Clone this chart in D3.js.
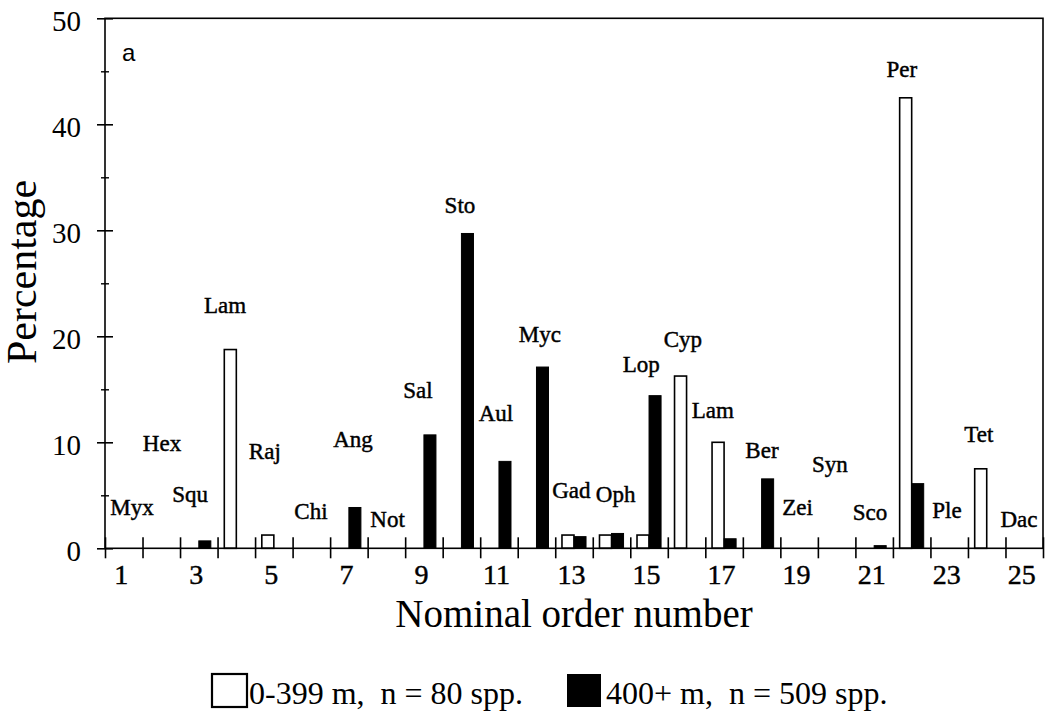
<!DOCTYPE html>
<html>
<head>
<meta charset="utf-8">
<script src="https://cdn.jsdelivr.net/npm/d3@7"></script>
<style>
  html, body { margin: 0; padding: 0; background: #fff; }
  svg { display: block; }
  text { font-family: "Liberation Serif", "Times New Roman", serif; fill: #000; }
  .ink { stroke: #000; stroke-width: 0.45px; }
</style>
</head>
<body>
<svg id="chart" width="1048" height="717"></svg>
<script>
// ---- data ----
const categories = d3.range(1, 26);
const orderLabels = ["Myx","Hex","Squ","Lam","Raj","Chi","Ang","Not","Sal","Sto","Aul","Myc","Gad",
                     "Oph","Lop","Cyp","Lam","Ber","Zei","Syn","Sco","Per","Ple","Tet","Dac"];
// percentage of species, 0-399 m (n = 80)
const shallow = [0,0,0,18.75,1.25,0,0,0,0,0,0,0,1.25,1.25,1.25,16.25,10,0,0,0,0,42.5,0,7.5,0];
// percentage of species, 400+ m (n = 509)
const deep = [0,0,0.7,0,0,0,3.85,0,10.7,29.7,8.2,17.1,1.1,1.4,14.4,0,0.9,6.55,0,0,0.25,6.1,0,0,0];
// label anchor (category units, percentage units of baseline)
const labelX = [1.22,2.02,2.77,3.70,4.76,5.99,7.11,8.03,8.84,9.96,10.92,12.09,12.93,
                14.11,14.79,15.90,16.70,18.01,18.96,19.82,20.89,21.74,22.94,23.79,24.86];
const labelY = [3.14,9.18,4.37,22.2,8.42,2.76,9.58,2.04,14.18,31.63,12.04,19.49,4.75,
                4.40,16.63,19.02,12.29,8.52,3.14,7.23,2.67,44.49,2.86,10.06,2.04];
const yMajorTicks = [0,10,20,30,40,50];
const yMinorTicks = [5,15,25,35,45];
const xTickLabels = [1,3,5,7,9,11,13,15,17,19,21,23,25];
const seriesNames = ["0-399 m,  n = 80 spp.", "400+ m,  n = 509 spp."];
const panelLabel = "a";

// ---- layout ----
const svg = d3.select("#chart");
const L = 105, R = 1043, T = 18.3, B = 548.3;

const x = d3.scaleBand().domain(categories).range([L, R]).paddingInner(0).paddingOuter(0);
const xLin = d3.scaleLinear().domain([0.5, 25.5]).range([L, R]);
const xSub = d3.scaleBand().domain(["shallow","deep"]).range([0, x.bandwidth()]).paddingInner(0).paddingOuter(0.56);
const y = d3.scaleLinear().domain([0, 50]).range([B, T]);

const rows = categories.map((c, i) => ({c, shallow: shallow[i], deep: deep[i]}));

// bars
const g = svg.append("g");
g.selectAll("rect.sh").data(rows.filter(d => d.shallow > 0)).join("rect")
  .attr("class","sh")
  .attr("x", d => x(d.c) + xSub("shallow"))
  .attr("y", d => y(d.shallow))
  .attr("width", xSub.bandwidth())
  .attr("height", d => y(0) - y(d.shallow))
  .attr("fill", "#fff").attr("stroke", "#000").attr("stroke-width", 1.6);
g.selectAll("rect.dp").data(rows.filter(d => d.deep > 0)).join("rect")
  .attr("class","dp")
  .attr("x", d => x(d.c) + xSub("deep"))
  .attr("y", d => y(d.deep))
  .attr("width", xSub.bandwidth())
  .attr("height", d => y(0) - y(d.deep))
  .attr("fill", "#000").attr("stroke", "#000").attr("stroke-width", 1);

// frame
svg.append("rect").attr("x", L).attr("y", T).attr("width", R - L).attr("height", B - T)
  .attr("fill", "none").attr("stroke", "#000").attr("stroke-width", 1.6);

// x axis ticks (band boundaries, crossing)
const xAx = svg.append("g").attr("transform", `translate(0,${B})`)
  .call(d3.axisBottom(xLin).tickValues(d3.range(0.5, 26, 1)).tickSize(10).tickFormat(""));
xAx.select(".domain").remove();
xAx.selectAll(".tick line").attr("y1", -11).attr("y2", 10).attr("stroke-width", 1.6);

// x tick labels
const xLab = svg.append("g").attr("transform", `translate(0,${B})`)
  .call(d3.axisBottom(x).tickValues(xTickLabels).tickSize(0));
xLab.select(".domain").remove();
xLab.selectAll(".tick text")
  .attr("class", "ink")
  .attr("y", 36).attr("dy", 0).attr("dx", -2.5)
  .style("font-family", '"Liberation Serif", serif').style("font-size", "28px").attr("fill", "#000");

// y axis
const yAx = svg.append("g").attr("transform", `translate(${L},0)`)
  .call(d3.axisLeft(y).tickValues(yMajorTicks).tickSize(8).tickFormat(d3.format("d")));
yAx.select(".domain").remove();
yAx.selectAll(".tick line").attr("x1", -8).attr("x2", 8).attr("stroke-width", 1.6);
yAx.selectAll(".tick text").attr("x", -24).attr("dy", "0.42em")
  .style("font-family", '"Liberation Serif", serif').style("font-size", "29px").attr("fill", "#000");
const yMin = svg.append("g").attr("transform", `translate(${L},0)`)
  .call(d3.axisLeft(y).tickValues(yMinorTicks).tickSize(4).tickFormat(""));
yMin.select(".domain").remove();
yMin.selectAll(".tick line").attr("x1", -4).attr("x2", 4).attr("stroke-width", 1.4);

// category labels
svg.append("g").selectAll("text").data(orderLabels).join("text")
  .attr("class", "ink")
  .attr("x", (d, i) => xLin(labelX[i]))
  .attr("y", (d, i) => y(labelY[i]))
  .attr("text-anchor", "middle")
  .style("font-size", "23px")
  .text(d => d);

// panel label
svg.append("text").attr("x", 122).attr("y", 61)
  .style("font-family", '"Liberation Sans", Arial, sans-serif').style("font-size", "24px")
  .text(panelLabel);

// axis titles
svg.append("text").attr("x", (L + R) / 2).attr("y", 627).attr("text-anchor", "middle")
  .style("font-size", "39px").text("Nominal order number");
svg.append("text").attr("transform", "translate(36,272) rotate(-90)").attr("text-anchor", "middle")
  .style("font-size", "42px").text("Percentage");

// legend
const leg = svg.append("g");
leg.append("rect").attr("x", 212).attr("y", 674).attr("width", 35).attr("height", 33)
  .attr("fill", "#fff").attr("stroke", "#000").attr("stroke-width", 2.2);
leg.append("text").attr("x", 249).attr("y", 704).style("font-size", "32px").style("white-space", "pre")
  .attr("xml:space", "preserve").text(seriesNames[0]);
leg.append("rect").attr("x", 567).attr("y", 674).attr("width", 34).attr("height", 33)
  .attr("fill", "#000");
leg.append("text").attr("x", 606).attr("y", 704).style("font-size", "32px").style("white-space", "pre")
  .attr("xml:space", "preserve").text(seriesNames[1]);
</script>
</body>
</html>
